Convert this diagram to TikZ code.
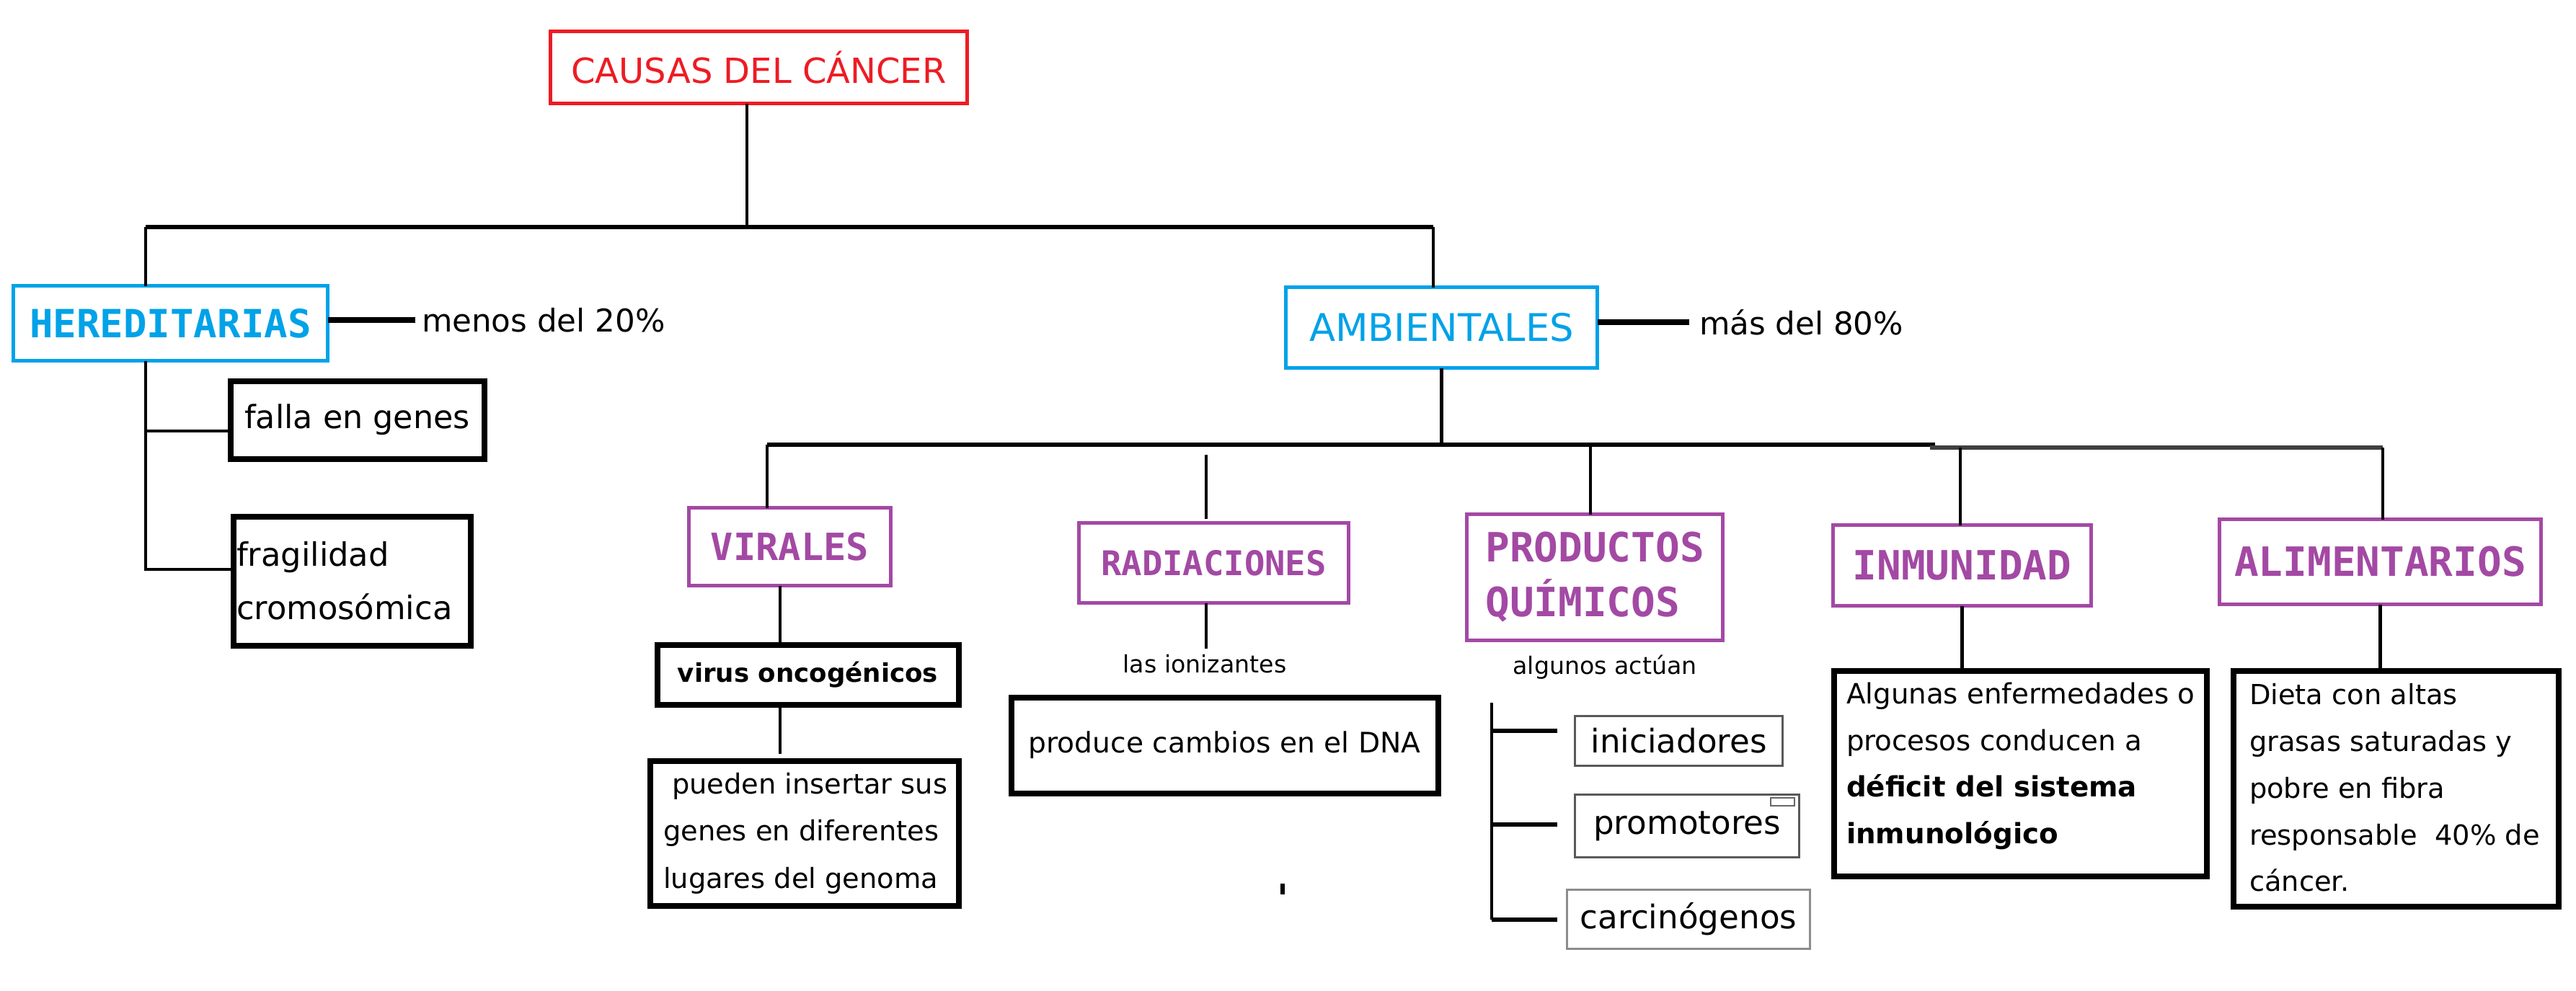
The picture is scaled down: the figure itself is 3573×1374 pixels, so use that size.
\documentclass[tikz,border=0pt]{standalone}
\usepackage{fontspec}
\setmainfont{DejaVu Sans}
\newfontfamily\monof{DejaVu Sans Mono}
\definecolor{pred}{HTML}{ED1C24}
\definecolor{pblue}{HTML}{00A2E8}
\definecolor{ppurple}{HTML}{A349A4}
\tikzset{
  sz/.style 2 args={minimum width=#1*0.25pt, minimum height=#2*0.25pt},
  redbox/.style={draw=pred, line width=1.35pt, text=pred, font=\fontsize{12}{14}\selectfont},
  bluebox/.style={draw=pblue, line width=1.35pt, text=pblue},
  purbox/.style={draw=ppurple, line width=1.35pt, text=ppurple, font=\monof\bfseries\fontsize{14}{19}\selectfont},
  blkbox/.style={draw=black, line width=2pt},
  thinbox/.style={draw=black!65, line width=0.8pt, font=\fontsize{11.3}{13}\selectfont},
  conn/.style={line width=1.2pt},
  bus/.style={line width=1.5pt},
  lbl/.style={font=\fontsize{10.9}{13}\selectfont},
  small/.style={font=\fontsize{8.3}{10}\selectfont},
}
\begin{document}
\begin{tikzpicture}[x=0.25pt,y=-0.25pt, every node/.style={inner sep=0pt, outer sep=0pt}]
\fill[white] (0,0) rectangle (3573,1374);
\useasboundingbox (0,0) rectangle (3573,1374);

% main nodes
\node[redbox, sz={578}{100}] (causas) at (1052.5,93.5) {CAUSAS DEL CÁNCER};
\node[bluebox, sz={436}{104}, font=\monof\bfseries\fontsize{13.5}{16}\selectfont] (hered) at (236.5,448.5) {HEREDITARIAS};
\node[bluebox, sz={432}{112}, font=\fontsize{13.2}{16}\selectfont] (ambient) at (1999.5,454.5) {AMBIENTALES};
\node[lbl, anchor=west] (menos) at (585,444) {menos del 20\%};
\node[lbl, anchor=west] (mas) at (2357,447) {más del 80\%};

% hereditarias children
\node[blkbox, sz={352}{108}, font=\fontsize{11.1}{13}\selectfont] (falla) at (495.5,582.5) {falla en genes};
\node[blkbox, sz={329}{179}] (fragil) at (488,806) {};
\node[anchor=west, align=left, font=\fontsize{11.2}{18.5}\selectfont] (fragiltxt) at (328,806) {fragilidad\\cromosómica};

% ambientales children
\node[purbox, sz={280}{108}, font=\monof\bfseries\fontsize{13}{16}\selectfont] (virales) at (1095.5,758.5) {VIRALES};
\node[blkbox, sz={418}{83}, font=\bfseries\fontsize{8.9}{11}\selectfont] (virus) at (1120.5,936) {virus oncogénicos};
\node[blkbox, sz={428}{201}] (pueden) at (1115.5,1156) {};
\node[anchor=west, align=left, font=\fontsize{9.6}{16.4}\selectfont] (puedentxt) at (920,1156) {\hspace*{3pt}pueden insertar sus\\genes en diferentes\\lugares del genoma};

\node[purbox, sz={374}{111}, font=\monof\bfseries\fontsize{11.8}{14}\selectfont] (radiac) at (1683.5,781) {RADIACIONES};
\node[small] (ioniz) at (1671,921) {las ionizantes};
\node[blkbox, sz={592}{133}, font=\fontsize{9.8}{12}\selectfont] (produce) at (1698.5,1034) {produce cambios en el DNA};

\node[purbox, sz={355}{175}, align=left] (prod) at (2212,801) {PRODUCTOS\\QUÍMICOS};
\node[small] (algunos) at (2226,926) {algunos actúan};
\node[thinbox, sz={288}{69}] (inic) at (2328.5,1028) {iniciadores};
\node[thinbox, sz={311}{87}] (promo) at (2340,1146) {promotores};
\node[thinbox, sz={337}{82}, draw=black!45] (carcin) at (2342,1275.5) {carcinógenos};

\node[purbox, sz={358}{112}] (inmun) at (2721.5,784.5) {INMUNIDAD};
\node[blkbox, sz={517}{285}] (inmtext) at (2802,1073) {};
\node[anchor=west, align=left, font=\fontsize{9.7}{16.1}\selectfont] (inmtxt) at (2561,1063) {Algunas enfermedades o\\procesos conducen a\\{\bfseries déficit del sistema}\\{\bfseries inmunológico}};

\node[purbox, sz={446}{118}] (alim) at (3301.5,779.5) {ALIMENTARIOS};
\node[blkbox, sz={451}{327}] (alimtext) at (3323,1094) {};
\node[anchor=west, align=left, font=\fontsize{9.6}{16.2}\selectfont] (alimtxt) at (3120,1093) {Dieta con altas\\grasas saturadas y\\pobre en fibra\\responsable\ \ 40\% de\\cáncer.};

% top connectors
\coordinate (jc) at (1036,315);
\coordinate (hl) at (202,315);
\coordinate (hr) at (1988,315);
\draw[conn] (causas.south -| jc) -- (jc);
\draw[bus] (hl) -- (hr);
\draw[conn] (hl) -- (hered.north -| hl);
\draw[conn] (hr) -- (ambient.north -| hr);
\draw[line width=2pt, shorten >=2.2pt] (hered.east |- menos.west) -- (menos.west);
\draw[line width=2pt, shorten >=3.5pt] (ambient.east |- mas.west) -- (mas.west);

% hereditarias bracket
\coordinate (hf) at (202,598);
\coordinate (hg) at (202,790);
\draw[conn] (hered.south -| hl) -- (hg) -- (fragil.west |- hg);
\draw[conn] (hf) -- (falla.west |- hf);

% ambientales bus
\coordinate (bl) at (1064,617);
\coordinate (bm) at (2684,617);
\coordinate (bm2) at (2677,621);
\coordinate (br) at (3305,621);
\draw[conn] (ambient.south) -- (ambient.south |- bl);
\draw[bus] (bl) -- (bm);
\draw[bus, black!75] (bm2) -- (br);
\draw[conn] (bl) -- (virales.north -| bl);
\coordinate (rt) at (1673,631);
\draw[conn] (rt) -- ([yshift=1.5pt]radiac.north -| rt);
\coordinate (pt) at (2206,619);
\draw[conn] (pt) -- (prod.north -| pt);
\coordinate (it) at (2719,621);
\draw[conn] (it) -- (inmun.north -| it);
\draw[conn] (br) -- (alim.north -| br);

% lower connectors
\coordinate (vx) at (1082,0);
\draw[conn] (virales.south -| vx) -- (virus.north -| vx);
\draw[conn] (virus.south -| vx) -- ([yshift=2.5pt]pueden.north -| vx);
\draw[conn] (radiac.south -| rt) -- ([yshift=2pt]ioniz.north -| rt);
\draw[conn] (inmun.south) -- (inmun.south |- inmtext.north);
\draw[conn] (alim.south) -- (alim.south |- alimtext.north);

% productos bracket
\coordinate (bt) at (2069,975);
\coordinate (b1) at (2069,1014);
\coordinate (b2) at (2069,1144);
\coordinate (b3) at (2069,1276);
\coordinate (t1) at (2160,1014);
\coordinate (t2) at (2160,1144);
\coordinate (t3) at (2160,1276);
\draw[conn] (bt) -- (b3);
\draw[line width=1.6pt] (b1) -- (t1);
\draw[line width=1.6pt] (b2) -- (t2);
\draw[line width=1.6pt] (b3) -- (t3);

% small marks
\draw[black!60, line width=0.6pt] (2456,1107) rectangle (2489,1118);
\fill (1776,1226) rectangle (1782,1241);
\end{tikzpicture}
\end{document}
